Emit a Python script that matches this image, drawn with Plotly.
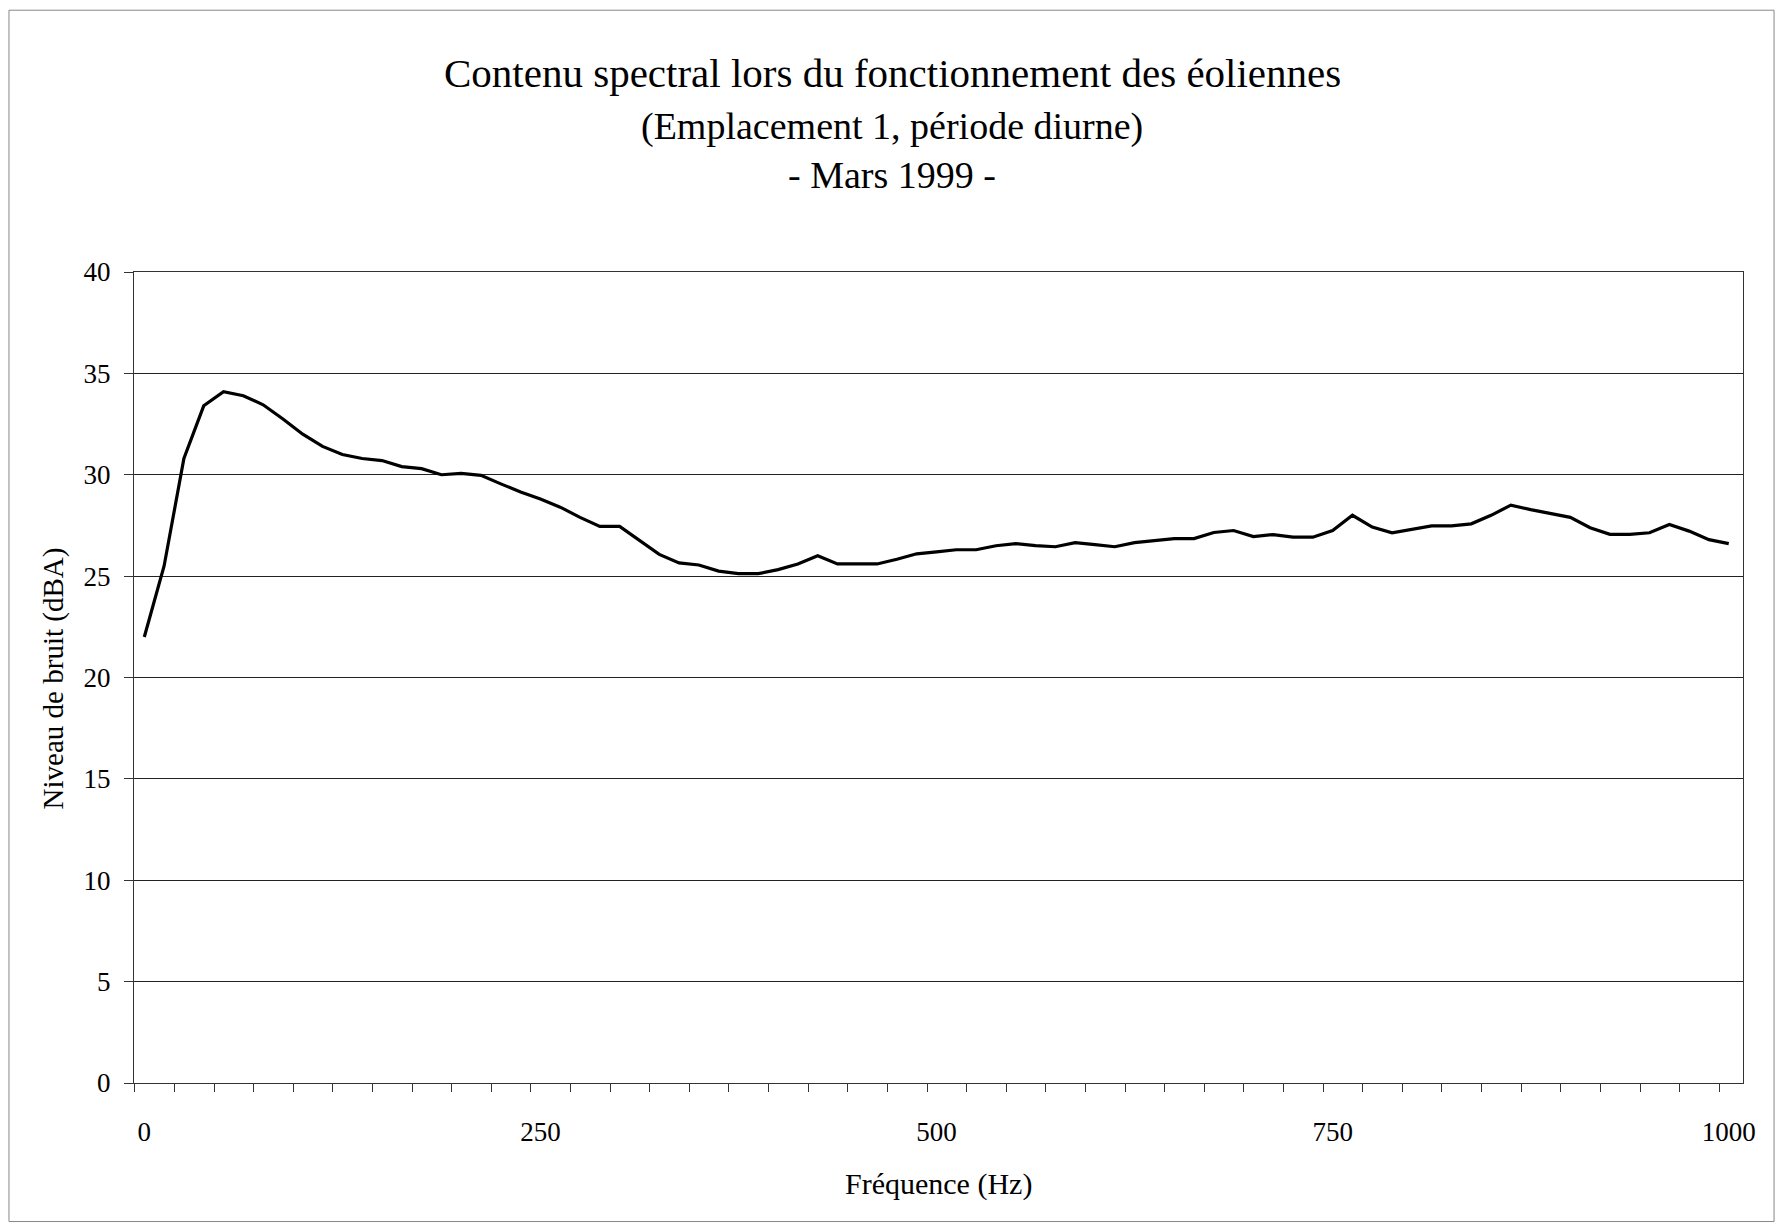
import numpy as np
import plotly.graph_objects as go

# spectral bins (Hz)
freq = np.arange(0, 1012.5, 12.5)
# noise level (dBA)
level = [
    22.0, 25.5, 30.8, 33.4, 34.1, 33.9, 33.45, 32.75, 32.0, 31.4,
    31.0, 30.8, 30.7, 30.4, 30.3, 30.0, 30.07, 29.97, 29.55, 29.15,
    28.8, 28.4, 27.9, 27.45, 27.45, 26.75, 26.07, 25.65, 25.55, 25.25,
    25.12, 25.12, 25.32, 25.6, 26.0, 25.6, 25.6, 25.6, 25.83, 26.1,
    26.2, 26.3, 26.3, 26.5, 26.6, 26.5, 26.45, 26.65, 26.55, 26.45,
    26.65, 26.75, 26.85, 26.85, 27.15, 27.25, 26.95, 27.05, 26.92, 26.92,
    27.25, 28.0, 27.42, 27.14, 27.3, 27.48, 27.48, 27.58, 28.0, 28.5,
    28.28, 28.09, 27.9, 27.39, 27.06, 27.06, 27.14, 27.55, 27.22, 26.8,
    26.6,
]
x_labels = [0, 250, 500, 750, 1000]

title_lines = [
    "Contenu spectral lors du fonctionnement des éoliennes",
    "(Emplacement 1, période diurne)",
    "- Mars 1999 -",
]

serif = "Liberation Serif"

fig = go.Figure()
fig.add_trace(go.Scatter(x=freq, y=level, mode="lines",
                         line=dict(color="black", width=3.2),
                         showlegend=False))

# page body adds an 8px offset, so margins are shifted to compensate
fig.update_layout(
    width=1783, height=1229,
    margin=dict(l=126, r=48, t=264, b=154),
    paper_bgcolor="white", plot_bgcolor="white",
    font=dict(family=serif, color="black", size=27),
)

fig.update_xaxes(
    range=[-6.5, 1009], tickvals=x_labels, ticktext=[str(v) for v in x_labels],
    ticks="outside", ticklen=0, ticklabelstandoff=25,
    showgrid=False, zeroline=False,
    showline=True, linecolor="#333", linewidth=1, mirror=True,
    tickfont=dict(size=27),
    minor=dict(tick0=19, dtick=25, ticks="outside", ticklen=8,
               tickcolor="#333", showgrid=False),
)
fig.update_yaxes(
    range=[0, 40], dtick=5, ticks="outside", ticklen=9, tickcolor="#333",
    ticklabelstandoff=8,
    showgrid=True, gridcolor="#222", gridwidth=1.4, zeroline=False,
    showline=True, linecolor="#333", linewidth=1, mirror=True,
    tickfont=dict(size=27),
)

ann = []
for txt, yp, sz in zip(title_lines, [1.245, 1.180, 1.119], [41, 38, 38]):
    ann.append(dict(text=txt, x=0.4712, y=yp, xref="paper", yref="paper",
                    showarrow=False, xanchor="center", yanchor="middle",
                    font=dict(family=serif, size=sz)))
ann.append(dict(text="Fréquence (Hz)", x=0.5, y=-0.124, xref="paper", yref="paper",
                showarrow=False, xanchor="center", yanchor="middle",
                font=dict(family=serif, size=30)))
ann.append(dict(text="Niveau de bruit (dBA)", x=-0.0503, y=0.499, xref="paper",
                yref="paper", showarrow=False, textangle=-90,
                xanchor="center", yanchor="middle",
                font=dict(family=serif, size=29)))
fig.update_layout(annotations=ann)

# outer chart border
fig.add_shape(type="rect", xref="paper", yref="paper",
              x0=-0.0777, x1=1.0193, y0=-0.1708, y1=1.3228,
              line=dict(color="#888", width=1))

fig.write_html("out.html")
